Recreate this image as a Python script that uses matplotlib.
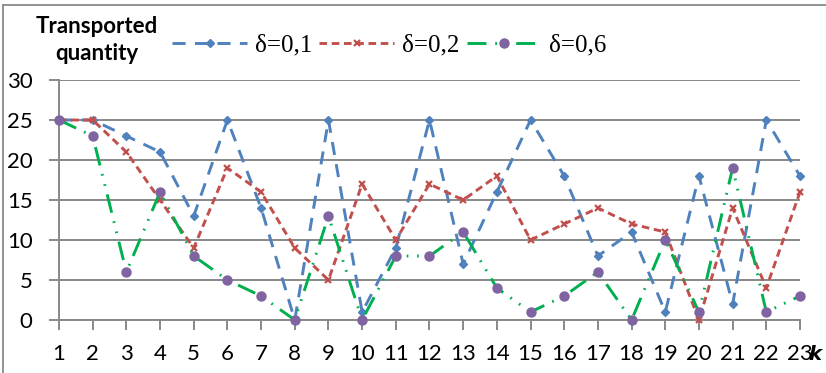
import matplotlib
matplotlib.use("Agg")
import matplotlib.pyplot as plt
from matplotlib.lines import Line2D

# Data
k = list(range(1, 24))
delta_01 = [25, 25, 23, 21, 13, 25, 14, 0, 25, 1, 9, 25, 7, 16, 25, 18, 8, 11, 1, 18, 2, 25, 18]
delta_02 = [25, 25, 21, 15, 9, 19, 16, 9, 5, 17, 10, 17, 15, 18, 10, 12, 14, 12, 11, 0, 14, 4, 16]
delta_06 = [25, 23, 6, 16, 8, 5, 3, 0, 13, 0, 8, 8, 11, 4, 1, 3, 6, 0, 10, 1, 19, 1, 3]
labels = ["δ=0,1", "δ=0,2", "δ=0,6"]
y_ticks = [0, 5, 10, 15, 20, 25, 30]

W, H = 826, 373
fig = plt.figure(figsize=(W / 100, H / 100), dpi=100)
ax = fig.add_axes([59 / W, 53 / H, (800 - 59) / W, 240 / H])

sans = "Lato"
grid_c = "#888888"

ax.plot(k, delta_01, color="#4F81BD", lw=2.1, dashes=(4.5, 3.2),
        marker="D", ms=4, mfc="#4F81BD", mec="#4F81BD", label=labels[0], zorder=3)
ax.plot(k, delta_02, color="#C0504D", lw=2.1, dashes=(2.6, 1.6),
        marker="x", ms=5, mew=1.6, mec="#C0504D", label=labels[1], zorder=4)
ax.plot(k, delta_06, color="#00B050", lw=2.1, dashes=(6.5, 3, 0.6, 3, 0.6, 3),
        marker="o", ms=6.5, mfc="#8064A2", mec="#8064A2", label=labels[2], zorder=5)

ax.set_xlim(1, 23)
ax.set_ylim(0, 30)
ax.set_xticks(k)
ax.set_yticks(y_ticks)
ax.yaxis.grid(True, color=grid_c, lw=1.4)
ax.set_axisbelow(True)
for s in ("top", "right"):
    ax.spines[s].set_visible(False)
for s in ("left", "bottom"):
    ax.spines[s].set_color(grid_c)
    ax.spines[s].set_linewidth(1.4)
ax.tick_params(axis="x", direction="out", length=7, width=1.4, color=grid_c, pad=10)
ax.tick_params(axis="y", direction="out", length=7, width=1.4, color=grid_c, pad=12)
for t in ax.get_xticklabels() + ax.get_yticklabels():
    t.set_fontfamily(sans)
    t.set_fontsize(16)
for ln in ax.lines:
    ln.set_clip_on(False)

# Axis titles
fig.text(97 / W, 1 - 40 / H, "Transported\nquantity", ha="center", va="center",
         fontfamily=sans, fontweight="bold", fontsize=16, linespacing=1.35)
fig.text(815 / W, 1 - 354 / H, "k", ha="center", va="center",
         fontfamily="DejaVu Sans", fontweight="bold", fontstyle="italic", fontsize=14)

# Legend
leg = ax.legend(loc="center left", bbox_to_anchor=(172 / W, 1 - 45 / H),
                bbox_transform=fig.transFigure, ncol=3, frameon=False,
                prop={"family": "Liberation Serif", "size": 18},
                handlelength=3.0, handletextpad=0.3, columnspacing=0.3,
                borderpad=0, borderaxespad=0)

# Outer frame (top and left edges)
fig.add_artist(Line2D([3 / W, 1], [1 - 5 / H, 1 - 5 / H], transform=fig.transFigure,
                      color="#8a8a8a", lw=1.3))
fig.add_artist(Line2D([3 / W, 3 / W], [0, 1 - 5 / H], transform=fig.transFigure,
                      color="#8a8a8a", lw=1.3))

fig.savefig("out.png", dpi=100)
